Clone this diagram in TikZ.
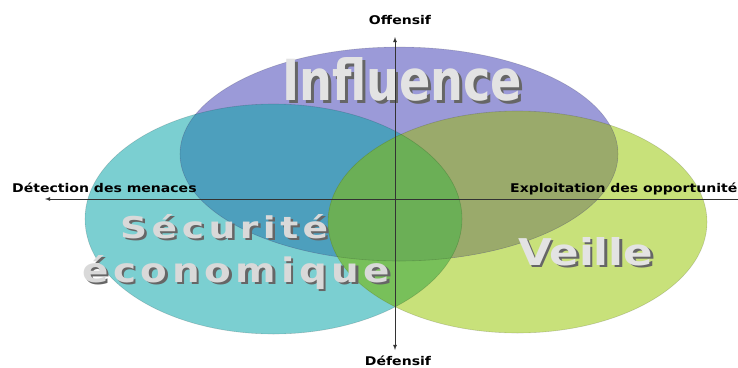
\documentclass[tikz,border=0pt]{standalone}
\usepackage{fontspec}
\setmainfont{DejaVu Sans}
\usetikzlibrary{calc}

\definecolor{violetI}{HTML}{9B9AD8}
\definecolor{tealS}{HTML}{7BCFD1}
\definecolor{greenV}{HTML}{C8E17A}
\definecolor{mixIS}{HTML}{4D9FBD}
\definecolor{mixIV}{HTML}{9AAA6B}
\definecolor{mixSV}{HTML}{78C05A}
\definecolor{mixISV}{HTML}{6BAF56}

\newcommand{\axtext}[1]{\scalebox{1.17}[1]{#1}}

\tikzset{
  influenceset/.style={insert path={(399,154) ellipse [x radius=219pt, y radius=107pt]}},
  secuset/.style={insert path={(273.5,219) ellipse [x radius=188.5pt, y radius=115pt]}},
  veilleset/.style={insert path={(517.5,222) ellipse [x radius=189.5pt, y radius=111pt]}},
  rim/.style={draw=black, draw opacity=0.15, line width=0.6pt},
  axis/.style={draw=black!80, line width=0.8pt, -latex},
  axlabel/.style={font=\bfseries\fontsize{12}{12}\selectfont, inner sep=0pt},
  word/.style={font=\bfseries, text=gray!22, inner sep=0pt, anchor=base west},
  wordshadow/.style={font=\bfseries, text=black!60, inner sep=0pt, anchor=base west}
}

\begin{document}
\begin{tikzpicture}[x=1pt,y=-1pt]
\useasboundingbox[fill=white] (0,0) rectangle (738,367);

% the three sets
\fill[tealS, secuset];
\fill[greenV, veilleset];
\fill[violetI, influenceset];
% overlaps
\begin{scope}
  \clip[secuset];
  \fill[mixIS, influenceset];
\end{scope}
\begin{scope}
  \clip[influenceset];
  \fill[mixIV, veilleset];
\end{scope}
\begin{scope}
  \clip[secuset];
  \fill[mixSV, veilleset];
\end{scope}
\begin{scope}
  \clip[secuset];
  \clip[influenceset];
  \fill[mixISV, veilleset];
\end{scope}
\path[rim, secuset];
\path[rim, veilleset];
\path[rim, influenceset];

% big words
\node[wordshadow] (influenceshadow) at (285,103) {\resizebox{240pt}{43pt}{Influence}};
\node[word] (influence) at (282,100) {\resizebox{240pt}{43pt}{Influence}};
\node[wordshadow] (securiteshadow) at (122.5,240.5) {\resizebox{208pt}{24pt}{\addfontfeatures{LetterSpace=12}Sécurité}};
\node[word, text=gray!30] (securite) at (120,238) {\resizebox{208pt}{24pt}{\addfontfeatures{LetterSpace=12}Sécurité}};
\node[wordshadow] (economiqueshadow) at (84.5,284.5) {\resizebox{308pt}{27pt}{\addfontfeatures{LetterSpace=12}économique}};
\node[word, text=gray!30] (economique) at (82,282) {\resizebox{308pt}{27pt}{\addfontfeatures{LetterSpace=12}économique}};
\node[wordshadow] (veilleshadow) at (520.5,267.5) {\resizebox{135pt}{28pt}{Veille}};
\node[word] (veille) at (518,265) {\resizebox{135pt}{28pt}{Veille}};

% axes
\coordinate (o) at (395,199);
\coordinate (west) at (45,199);
\coordinate (east) at (742,199);
\coordinate (north) at (395,37);
\coordinate (south) at (395,350);
\draw[axis] (east) -- (west);
\draw[axis] (o) -- (north);
\draw[axis] (o) -- (south);

% axis labels
\node[axlabel, anchor=base] (offensif) at (400,24) {\axtext{Offensif}};
\node[axlabel, anchor=base] (defensif) at (398,365) {\axtext{Défensif}};
\node[axlabel, anchor=base west] (menaces) at (12,192) {\axtext{Détection des menaces}};
\node[axlabel, anchor=base west] (opportunites) at (510,192) {\axtext{Exploitation des opportunités}};

\end{tikzpicture}
\end{document}
